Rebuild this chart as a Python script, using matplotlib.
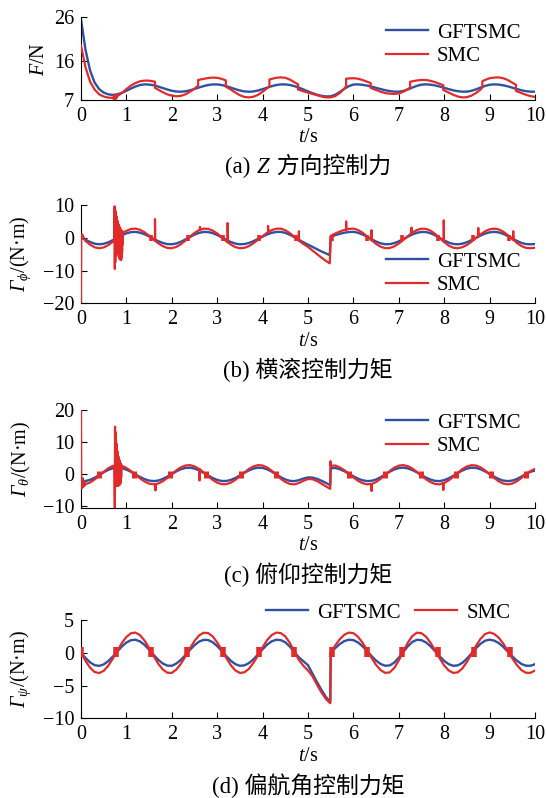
import numpy as np
import matplotlib.pyplot as plt
from matplotlib.offsetbox import TextArea, HPacker, AnchoredOffsetbox

plt.rcParams['font.family'] = ['Liberation Serif', 'Noto Sans CJK SC']
plt.rcParams['mathtext.fontset'] = 'custom'
plt.rcParams['mathtext.rm'] = 'Liberation Serif'
plt.rcParams['mathtext.it'] = 'Liberation Serif:italic'
plt.rcParams['mathtext.sf'] = 'Liberation Serif:italic'  # used for the italic capital Gamma
plt.rcParams['font.size'] = 14.5

BLUE = '#2f51a0'
RED = '#e32a2a'

# sampling grid (s)
t = np.linspace(0, 10, 101)

# ---- (a) Z force, F/N
fz_gftsmc = [25.5, 18.5, 13.8, 11.0, 9.5, 8.7, 8.3, 8.16, 8.31, 8.65,
             9.12, 9.63, 10.10, 10.44, 10.59, 10.55, 10.38, 10.09, 9.75, 9.41,
             9.12, 8.95, 8.90, 9.00, 9.22, 9.53, 9.87, 10.19, 10.44, 10.58,
             10.58, 10.44, 10.18, 9.84, 9.49, 9.18, 8.97, 8.90, 8.97, 9.18,
             9.49, 9.84, 10.18, 10.44, 10.58, 10.58, 10.45, 10.19, 9.84, 9.42,
             8.98, 8.56, 8.21, 7.95, 7.82, 7.85, 8.21, 8.84, 9.56, 10.19,
             10.55, 10.59, 10.49, 10.31, 10.07, 9.79, 9.51, 9.25, 9.05, 8.92,
             8.91, 9.08, 9.43, 9.86, 10.26, 10.53, 10.60, 10.52, 10.35, 10.09,
             9.80, 9.49, 9.22, 9.02, 8.91, 8.92, 9.11, 9.44, 9.85, 10.23,
             10.50, 10.60, 10.54, 10.38, 10.14, 9.83, 9.52, 9.24, 9.03, 8.91,
             8.90]
fz_smc = [19.5, 14.5, 11.2, 9.4, 8.3, 7.8, 7.55, 7.5, 7.9, 8.6,
          9.5, 10.3, 10.9, 11.3, 11.45, 11.45, 11.25, 9.4, 8.8, 8.3,
          8.0, 7.85, 7.95, 8.3, 8.9, 9.6, 11.65, 11.85, 12.05, 12.15,
          12.1, 11.85, 10.0, 9.4, 8.7, 8.1, 7.7, 7.6, 7.75, 8.2,
          8.9, 9.7, 11.85, 12.1, 12.2, 12.1, 11.7, 11.1, 9.35, 9.0,
          8.7, 8.4, 8.1, 7.8, 7.6, 7.6, 7.9, 8.6, 9.6, 11.95,
          12.0, 11.9, 11.6, 11.2, 9.7, 9.3, 8.9, 8.6, 8.45, 8.4,
          8.5, 8.9, 9.5, 11.3, 11.5, 11.6, 11.6, 11.4, 11.1, 10.7,
          9.2, 8.7, 8.2, 7.8, 7.6, 7.65, 8.0, 8.6, 9.4, 11.6,
          12.0, 12.15, 12.2, 12.0, 11.6, 11.0, 9.0, 8.6, 8.2, 7.9,
          7.7]
# chatter near 0.75 s and switching steps
fz_smc_xt = [0.72, 0.73, 0.74, 0.75, 0.76, 0.77, 0.78, 0.79,
             1.63, 1.63, 2.58, 2.58, 3.19, 3.19, 4.15, 4.15, 4.78, 4.78,
             5.84, 5.84, 6.38, 6.38, 7.25, 7.25, 7.98, 7.98, 8.84, 8.84, 9.58, 9.58]
fz_smc_xv = [7.3, 8.1, 7.2, 8.2, 7.3, 8.1, 7.4, 8.0,
             11.2, 9.8, 10.3, 11.6, 11.5, 10.1, 10.1, 11.7, 10.6, 9.4,
             10.2, 11.9, 10.9, 9.8, 9.9, 11.2, 10.4, 9.3, 9.9, 11.3, 10.5, 9.1]

# ---- (b) roll torque
roll_gftsmc = [0.0, -0.6, -1.3, -1.8, -2.0, -1.84, -1.40, -0.74, 0.02, 0.76,
               1.36, 1.72, 1.79, 1.56, 1.08, 0.41, -0.32, -1.03, -1.59, -1.93,
               -1.99, -1.74, -1.22, -0.52, 0.24, 0.96, 1.50, 1.78, 1.74, 1.42,
               0.85, 0.13, -0.63, -1.30, -1.78, -1.99, -1.91, -1.58, -1.03, -0.35,
               0.36, 1.01, 1.50, 1.77, 1.79, 1.50, 0.90, 0.20, -0.60, -1.40,
               -2.10, -2.80, -3.50, -4.20, -4.80, 0.30, 0.80, 1.20, 1.55, 1.75,
               1.80, 1.54, 1.02, 0.32, -0.44, -1.16, -1.70, -1.98, -1.95, -1.64,
               -1.09, -0.40, 0.34, 1.02, 1.52, 1.78, 1.74, 1.38, 0.76, -0.02,
               -0.80, -1.48, -1.89, -2.00, -1.80, -1.37, -0.74, -0.03, 0.68, 1.27,
               1.66, 1.80, 1.64, 1.20, 0.54, -0.22, -0.96, -1.56, -1.92, -2.00,
               -1.90]
roll_smc = [-20.0, -1.0, -2.1, -2.9, -3.2, -2.95, -2.25, -1.21, -0.01, 1.16,
            2.11, 2.68, 2.79, 2.42, 1.67, 0.61, -0.55, -1.67, -2.55, -3.09,
            -3.18, -2.79, -1.97, -0.86, 0.34, 1.48, 2.33, 2.77, 2.71, 2.20,
            1.30, 0.17, -1.04, -2.09, -2.85, -3.18, -3.06, -2.54, -1.67, -0.59,
            0.53, 1.55, 2.33, 2.76, 2.79, 2.30, 1.40, 0.30, -0.90, -1.90,
            -2.80, -3.90, -5.00, -6.10, -7.10, 0.60, 1.30, 1.90, 2.40, 2.70,
            2.80, 2.39, 1.57, 0.46, -0.74, -1.87, -2.73, -3.17, -3.12, -2.63,
            -1.76, -0.67, 0.50, 1.57, 2.36, 2.77, 2.71, 2.14, 1.16, -0.07,
            -1.30, -2.38, -3.03, -3.20, -2.88, -2.20, -1.21, -0.09, 1.03, 1.97,
            2.58, 2.80, 2.55, 1.86, 0.81, -0.39, -1.56, -2.50, -3.07, -3.20,
            -3.04]
roll_gftsmc_xt = [5.48]
roll_gftsmc_xv = [-5.3]
roll_smc_xt = [0.005, 0.03, 0.06,
               0.735, 0.74, 0.745, 0.75, 0.755, 0.76, 0.765, 0.77, 0.775, 0.78,
               0.785, 0.79, 0.795, 0.80, 0.805, 0.81, 0.815, 0.82, 0.825, 0.83,
               0.835, 0.84, 0.845, 0.85, 0.855, 0.86, 0.865, 0.87, 0.875, 0.88,
               0.885, 0.89, 0.895, 0.90, 0.905, 0.91, 0.915, 0.92,
               5.48]
roll_smc_xv = [0.6, 1.0, 0.0,
               -0.5, 9.6, -9.5, 8.8, -7.5, 8.0, -5.5, 7.2, -4.0, 6.5,
               -3.5, 5.9, -3.8, 5.3, -4.2, 4.8, -4.7, 4.3, -5.2, 3.9,
               -5.7, 3.5, -6.1, 3.2, -6.4, 2.9, -6.6, 2.6, -6.8, 2.4,
               -6.7, 2.2, -6.0, 2.0, -4.5, 1.8, -2.0, 1.6,
               -7.8]
# spikes: (time, foot, tip)
roll_spikes = [(1.63, -0.9, 5.7), (2.62, 2.4, 3.3), (3.23, -1.35, 4.5), (4.12, 1.7, 3.6),
               (4.80, -0.9, 2.0), (5.84, 2.5, 5.0), (6.40, -0.74, 2.3), (7.28, 1.4, 3.1),
               (7.99, -1.2, 5.3), (8.75, 0.5, 3.0), (9.52, -0.6, 2.0)]
roll_blob_t = [1.54, 2.36, 3.13, 3.92, 4.74, 5.53, 6.31, 7.06, 7.87, 8.63, 9.43]
roll_blob = (-1.1, 0.8)

# ---- (c) pitch torque
pitch_gftsmc = [-1.0, -2.15, -1.80, -1.15, -0.32, 0.55, 1.30, 1.82, 2.00, 1.84,
                1.38, 0.70, -0.10, -0.90, -1.58, -2.04, -2.20, -2.03, -1.54, -0.81,
                0.03, 0.85, 1.51, 1.91, 1.99, 1.72, 1.16, 0.40, -0.44, -1.23,
                -1.83, -2.16, -2.16, -1.83, -1.23, -0.44, 0.40, 1.16, 1.72, 1.99,
                1.91, 1.48, 0.77, -0.10, -0.97, -1.68, -2.11, -2.20, -1.90, -1.40,
                -1.05, -1.10, -1.50, -2.10, -2.80, 1.80, 1.90, 1.51, 0.88, 0.10,
                -0.70, -1.42, -1.94, -2.19, -2.11, -1.69, -0.99, -0.14, 0.73, 1.43,
                1.88, 2.00, 1.76, 1.24, 0.52, -0.31, -1.11, -1.73, -2.12, -2.20,
                -1.90, -1.32, -0.54, 0.33, 1.12, 1.70, 1.98, 1.91, 1.51, 0.85,
                0.03, -0.81, -1.54, -2.03, -2.20, -2.03, -1.54, -0.81, 0.03, 0.70,
                1.10]
pitch_smc = [20.0, -3.13, -2.63, -1.70, -0.52, 0.73, 1.80, 2.54, 2.80, 2.57,
             1.91, 0.94, -0.20, -1.35, -2.32, -2.98, -3.21, -2.96, -2.26, -1.22,
             -0.02, 1.16, 2.10, 2.67, 2.79, 2.40, 1.60, 0.51, -0.69, -1.82,
             -2.68, -3.15, -3.15, -2.68, -1.82, -0.69, 0.51, 1.60, 2.40, 2.79,
             2.67, 2.06, 1.04, -0.20, -1.45, -2.46, -3.08, -3.21, -2.80, -2.10,
             -1.55, -1.60, -2.20, -3.00, -3.90, 2.60, 2.66, 2.10, 1.20, 0.08,
             -1.06, -2.09, -2.83, -3.19, -3.08, -2.48, -1.48, -0.26, 0.98, 1.99,
             2.63, 2.80, 2.46, 1.71, 0.68, -0.50, -1.65, -2.53, -3.09, -3.21,
             -2.78, -1.95, -0.83, 0.41, 1.54, 2.37, 2.77, 2.67, 2.10, 1.16,
             -0.02, -1.22, -2.26, -2.96, -3.21, -2.96, -2.26, -1.22, -0.02, 0.95,
             1.60]
pitch_gftsmc_xt = [0.02, 0.04, 0.06, 5.49]
pitch_gftsmc_xv = [-3.5, -1.4, -2.8, -3.5]
pitch_smc_xt = [0.005, 0.015, 0.025, 0.035, 0.045, 0.06, 0.08,
                0.735, 0.745, 0.75, 0.755, 0.76, 0.765, 0.77, 0.775, 0.78, 0.785,
                0.79, 0.795, 0.80, 0.805, 0.81, 0.815, 0.82, 0.825, 0.83, 0.835,
                0.84, 0.845, 0.85, 0.855, 0.86, 0.865, 0.87, 0.875, 0.88, 0.885,
                0.89, 0.895,
                5.49, 5.495]
pitch_smc_xv = [-4.5, -1.5, -4.3, -2.0, -4.0, -2.4, -3.6,
                2.6, -11.0, 14.8, -4.0, 13.0, -3.5, 11.0, -3.5, 9.5, -3.5,
                8.2, -3.6, 7.2, -3.6, 6.3, -3.6, 5.6, -3.5, 5.0, -3.5,
                4.5, -3.4, 4.1, -3.2, 3.7, -3.0, 3.4, -2.5, 3.1, -1.0,
                2.8, 2.6,
                -4.6, 4.0]
pitch_spikes = [(1.64, -3.1, -5.1), (2.61, 1.5, -2.0), (6.40, -3.1, -5.3), (7.98, -2.8, -5.0)]
pitch_blob_t = [0.40, 1.17, 1.97, 2.76, 3.52, 4.30, 5.90, 6.70, 7.48, 8.25, 9.03, 9.80]
pitch_blob = (-1.2, 1.1)

# ---- (d) yaw torque
yaw_gftsmc = [0.0, -0.80, -1.47, -1.89, -2.00, -1.78, -1.28, -0.59, 0.20, 0.96,
              1.56, 1.92, 1.99, 1.73, 1.20, 0.48, -0.32, -1.07, -1.64, -1.96,
              -1.99, -1.65, -1.09, -0.36, 0.44, 1.16, 1.70, 1.97, 1.94, 1.61,
              1.02, 0.28, -0.51, -1.22, -1.74, -1.99, -1.92, -1.58, -0.98, -0.24,
              0.54, 1.25, 1.74, 1.99, 1.93, 1.60, 0.95, 0.10, -0.70, -1.30,
              -1.90, -3.20, -4.50, -5.70, -6.80, 0.00, 0.72, 1.33, 1.78, 1.99,
              1.93, 1.58, 1.00, 0.27, -0.50, -1.20, -1.71, -1.98, -1.93, -1.50,
              -0.75, 0.14, 1.00, 1.66, 1.98, 1.92, 1.58, 0.98, 0.24, -0.54,
              -1.25, -1.74, -1.99, -1.92, -1.54, -0.90, -0.12, 0.68, 1.37, 1.84,
              2.00, 1.86, 1.49, 0.91, 0.18, -0.55, -1.20, -1.70, -1.97, -1.98,
              -1.75]
yaw_smc = [0.0, -1.24, -2.28, -2.93, -3.10, -2.76, -1.98, -0.91, 0.31, 1.49,
           2.42, 2.98, 3.08, 2.68, 1.86, 0.74, -0.50, -1.66, -2.54, -3.04,
           -3.08, -2.56, -1.69, -0.56, 0.68, 1.80, 2.64, 3.05, 3.01, 2.50,
           1.58, 0.43, -0.79, -1.89, -2.70, -3.08, -2.98, -2.45, -1.52, -0.37,
           0.84, 1.94, 2.70, 3.08, 3.00, 2.50, 1.50, 0.15, -1.10, -2.00,
           -2.70, -3.60, -4.90, -6.10, -7.10, 0.00, 1.12, 2.06, 2.76, 3.08,
           2.99, 2.45, 1.55, 0.42, -0.78, -1.86, -2.65, -3.07, -2.99, -2.33,
           -1.16, 0.22, 1.55, 2.57, 3.07, 2.98, 2.45, 1.52, 0.37, -0.84,
           -1.94, -2.70, -3.08, -2.98, -2.39, -1.40, -0.19, 1.05, 2.12, 2.85,
           3.10, 2.88, 2.31, 1.41, 0.28, -0.85, -1.86, -2.64, -3.05, -3.07,
           -2.70]
yaw_gftsmc_xt = [5.49]
yaw_gftsmc_xv = [-7.5]
yaw_smc_xt = [5.49]
yaw_smc_xv = [-7.7]
yaw_blob_t = [0.0, 0.76, 1.55, 2.34, 3.13, 3.92, 4.70, 5.52, 6.31, 7.08, 7.87, 8.66, 9.44]
yaw_blob = (-0.7, 0.9)


def merged(base, xt, xv, spikes=()):
    xt, xv = list(xt), list(xv)
    for ts, foot, tip in spikes:
        xt += [ts, ts, ts + 0.004]
        xv += [foot, tip, foot]
    tt = np.concatenate([t, xt])
    vv = np.concatenate([base, xv])
    order = np.argsort(tt, kind='stable')
    return tt[order], vv[order]


W, H = 546, 798
fig = plt.figure(figsize=(W / 100, H / 100), dpi=100)

panels = [
    dict(top=17.3, bot=100.0, ylim=(7, 26), yticks=[7, 16, 26],
         ylabel=r'$F$/N', ylx=40,
         caption=['(a) ', r'$Z$', ' 方向控制力'],
         blue=merged(fz_gftsmc, [], []),
         red=merged(fz_smc, fz_smc_xt, fz_smc_xv),
         blobs=None, leg=(386, 23, 1)),
    dict(top=205.0, bot=303.3, ylim=(-20, 10), yticks=[-20, -10, 0, 10],
         ylabel=r'$\mathsf{\Gamma}_{\phi}$/(N·m)', ylx=21,
         caption=['(b) 横滚控制力矩'],
         blue=merged(roll_gftsmc, roll_gftsmc_xt, roll_gftsmc_xv),
         red=merged(roll_smc, roll_smc_xt, roll_smc_xv, roll_spikes),
         blobs=(roll_blob_t, roll_blob, 2.6), leg=(386, 252, 1)),
    dict(top=410.0, bot=507.7, ylim=(-10.5, 20), yticks=[-10, 0, 10, 20],
         ylabel=r'$\mathsf{\Gamma}_{\theta}$/(N·m)', ylx=21,
         caption=['(c) 俯仰控制力矩'],
         blue=merged(pitch_gftsmc, pitch_gftsmc_xt, pitch_gftsmc_xv),
         red=merged(pitch_smc, pitch_smc_xt, pitch_smc_xv, pitch_spikes),
         blobs=(pitch_blob_t, pitch_blob, 3.6), leg=(386, 413, 1)),
    dict(top=620.0, bot=718.3, ylim=(-10, 5), yticks=[-10, -5, 0, 5],
         ylabel=r'$\mathsf{\Gamma}_{\psi}$/(N·m)', ylx=21,
         caption=['(d) 偏航角控制力矩'],
         blue=merged(yaw_gftsmc, yaw_gftsmc_xt, yaw_gftsmc_xv),
         red=merged(yaw_smc, yaw_smc_xt, yaw_smc_xv),
         blobs=(yaw_blob_t, yaw_blob, 4.0), leg=(266, 603, 2)),
]

x0, x1 = 81, 535
xc = (x0 + x1) / 2 / W
for p in panels:
    ax = fig.add_axes([x0 / W, 1 - p['bot'] / H, (x1 - x0) / W, (p['bot'] - p['top']) / H])
    lb, = ax.plot(*p['blue'], color=BLUE, lw=1.7, zorder=2)
    lr, = ax.plot(*p['red'], color=RED, lw=1.6, zorder=3)
    if p['blobs'] is not None:
        bt, (lo, hi), bw = p['blobs']
        ax.vlines(bt, lo, hi, color=RED, lw=bw, zorder=3)
    ax.set_xlim(0, 10)
    ax.set_ylim(*p['ylim'])
    ax.set_xticks(range(11))
    ax.set_yticks(p['yticks'])
    for s in ['top', 'right']:
        ax.spines[s].set_visible(False)
    ax.tick_params(direction='in', length=4, width=0.8, pad=5, labelsize=14.5)
    ax.set_ylabel(p['ylabel'], fontsize=14.5, va='center')
    ax.yaxis.set_label_coords((p['ylx'] - x0) / (x1 - x0), 0.5)
    fig.text(xc, 1 - (p['bot'] + 38) / H, r'$t$/s', ha='center', va='center', fontsize=14.5)

    # caption, pieces packed on one baseline so CJK and math italics can mix
    parts = [TextArea(s, textprops=dict(fontsize=16.5)) for s in p['caption']]
    cap = AnchoredOffsetbox(loc='center', child=HPacker(children=parts, sep=0, pad=0, align='baseline'),
                            frameon=False, pad=0, borderpad=0,
                            bbox_to_anchor=(xc, 1 - (p['bot'] + 67) / H),
                            bbox_transform=fig.transFigure)
    fig.add_artist(cap)

    lx, ly, nc = p['leg']
    ax.legend([lb, lr], ['GFTSMC', 'SMC'], loc='upper left', ncol=nc,
              bbox_to_anchor=(lx / W, 1 - ly / H), bbox_transform=fig.transFigure,
              frameon=False, fontsize=15, handlelength=2.0, handletextpad=0.45,
              labelspacing=0.2, columnspacing=0.7, borderpad=0, borderaxespad=0)

fig.savefig('out.png', dpi=100)
